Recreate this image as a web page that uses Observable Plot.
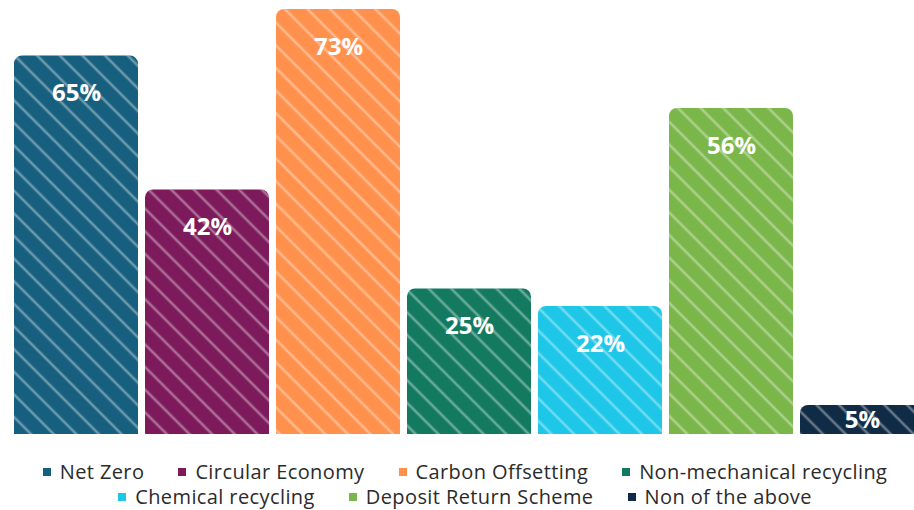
<!DOCTYPE html>
<html>
<head>
<meta charset="utf-8">
<script src="https://cdn.jsdelivr.net/npm/d3@7"></script>
<script src="https://cdn.jsdelivr.net/npm/@observablehq/plot@0.6"></script>
<style>
  html, body { margin: 0; padding: 0; background: #fff; overflow: hidden; }
  #wrap { width: 914px; }
  #legend { margin-top: 19px; margin-left: 16px; width: 898px; }
  .legend { font-family: "Open Sans", sans-serif; font-size: 20px; letter-spacing: 0.4px; color: #2b2b2b; display: flex; justify-content: center; column-gap: 34px; line-height: 25px; }
  .legend .item { display: flex; align-items: center; white-space: nowrap; }
  .legend .sw { width: 8px; height: 8px; margin-right: 9px; display: inline-block; }
</style>
</head>
<body>
<div id="wrap"></div>
<script>
const categories = ["Net Zero", "Circular Economy", "Carbon Offsetting", "Non-mechanical recycling", "Chemical recycling", "Deposit Return Scheme", "Non of the above"];
const values = [65, 42, 73, 25, 22, 56, 5];
const colors = ["#175f7e", "#7c1a5b", "#ff914d", "#137a60", "#1ec7e8", "#7bb64a", "#0f2b45"];
const legendRows = [[0, 1, 2, 3], [4, 5, 6]];

const data = categories.map((c, i) => ({category: c, value: values[i], label: values[i] + "%", color: colors[i]}));

const chart = Plot.plot({
  width: 914,
  height: 440,
  marginTop: 9,
  marginBottom: 6,
  marginLeft: 0,
  marginRight: 0,
  x: {domain: categories, range: [4.5, 932.5], padding: 0.057, axis: null},
  y: {domain: [0, 73], axis: null},
  marks: [
    Plot.barY(data, {x: "category", y: "value", fill: "color", ry1: 8}),
    Plot.barY(data, {x: "category", y: "value", fill: "url(#hatch)", ry1: 8}),
    Plot.text(data, {
      x: "category",
      y: d => Math.max(d.value - 6.44, d.value / 2),
      text: "label",
      fill: "white",
      fontSize: 24,
      fontWeight: 700,
      fontFamily: "Open Sans, sans-serif"
    })
  ]
});
chart.style.overflow = "hidden";
const defs = d3.select(chart).insert("defs", ":first-child");
const pat = defs.append("pattern")
  .attr("id", "hatch")
  .attr("patternUnits", "userSpaceOnUse")
  .attr("width", 16)
  .attr("height", 16)
  .attr("patternTransform", "rotate(-45)");
pat.append("line")
  .attr("x1", 3).attr("y1", 0).attr("x2", 3).attr("y2", 16)
  .attr("stroke", "white").attr("stroke-width", 2.6).attr("stroke-opacity", 0.36);
document.getElementById("wrap").appendChild(chart);

const legend = document.createElement("div");
legend.id = "legend";
legendRows.forEach(row => {
  const r = document.createElement("div");
  r.className = "legend";
  row.forEach(i => {
    const it = document.createElement("span");
    it.className = "item";
    const sw = document.createElement("span");
    sw.className = "sw";
    sw.style.background = colors[i];
    it.appendChild(sw);
    it.appendChild(document.createTextNode(categories[i]));
    r.appendChild(it);
  });
  legend.appendChild(r);
});
document.getElementById("wrap").appendChild(legend);
</script>
</body>
</html>
